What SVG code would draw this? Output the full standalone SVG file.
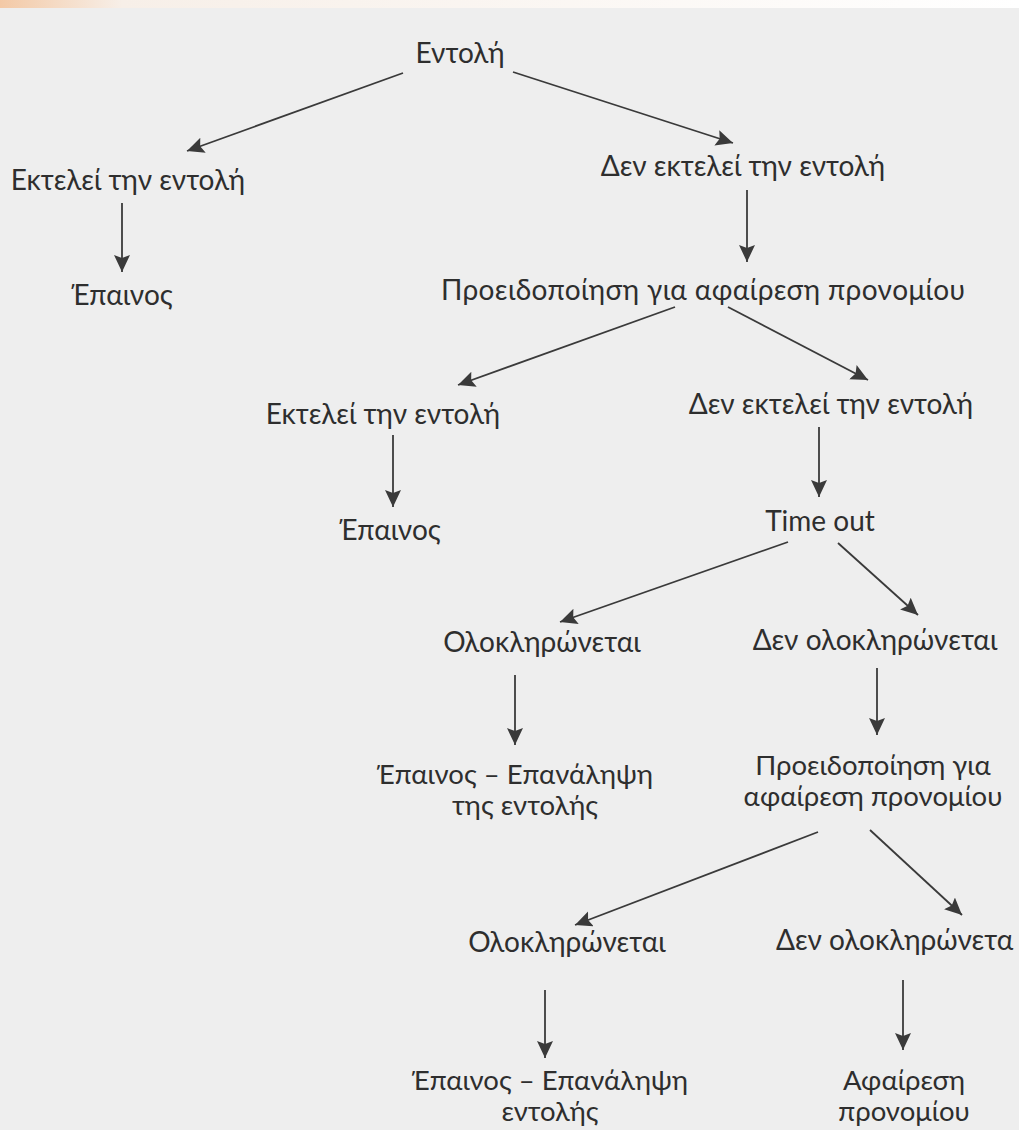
<svg xmlns="http://www.w3.org/2000/svg" width="1019" height="1130" viewBox="0 0 1019 1130">
<defs>
<marker id="ah" markerUnits="userSpaceOnUse" markerWidth="20" markerHeight="18" refX="17" refY="8" orient="auto">
<path d="M0,0 L17,8 L0,16 L3,8 z" fill="#3a3a3a"/>
</marker>
<linearGradient id="topg" x1="0" y1="0" x2="1" y2="0">
<stop offset="0" stop-color="#f3c9a6"/>
<stop offset="0.12" stop-color="#f7efe8"/>
<stop offset="1" stop-color="#ffffff"/>
</linearGradient>
</defs>
<style>
text{font-family:"Lato","Open Sans","Noto Sans",sans-serif;font-size:28px;fill:#2e2e2e;text-anchor:middle}
.two text{font-size:27.5px}
.c line{stroke:#3a3a3a;stroke-width:1.8;marker-end:url(#ah)}
</style>
<rect x="0" y="0" width="1019" height="1130" fill="#eeeeee"/>
<rect x="0" y="0" width="1019" height="8" fill="url(#topg)"/>
<g id="n1"><text x="460" y="63">Εντολή</text></g>
<g id="n2"><text x="128" y="190">Εκτελεί την εντολή</text></g>
<g id="n3"><text x="743" y="176">Δεν εκτελεί την εντολή</text></g>
<g id="n4"><text x="122" y="305">Έπαινος</text></g>
<g id="n5"><text x="703" y="300" textLength="524" lengthAdjust="spacing">Προειδοποίηση για αφαίρεση προνομίου</text></g>
<g id="n6"><text x="383" y="424">Εκτελεί την εντολή</text></g>
<g id="n7"><text x="831" y="414">Δεν εκτελεί την εντολή</text></g>
<g id="n8"><text x="390" y="540">Έπαινος</text></g>
<g id="n9"><text x="820" y="531">Time out</text></g>
<g id="n10"><text x="542" y="652">Ολοκληρώνεται</text></g>
<g id="n11"><text x="875" y="650">Δεν ολοκληρώνεται</text></g>
<g id="n12" class="two"><text x="515" y="784">Έπαινος – Επανάληψη</text><text x="525" y="815">της εντολής</text></g>
<g id="n13" class="two"><text x="873" y="775">Προειδοποίηση για</text><text x="873" y="806">αφαίρεση προνομίου</text></g>
<g id="n14"><text x="567" y="952">Ολοκληρώνεται</text></g>
<g id="n15"><text x="776" y="950" style="text-anchor:start">Δεν ολοκληρώνετα</text></g>
<g id="n16" class="two"><text x="550" y="1090">Έπαινος – Επανάληψη</text><text x="550" y="1121">εντολής</text></g>
<g id="n17" class="two"><text x="904" y="1090">Αφαίρεση</text><text x="904" y="1121">προνομίου</text></g>
<g id="connectors" class="c">
<line x1="403" y1="73" x2="187" y2="151"/>
<line x1="513" y1="72" x2="733" y2="143"/>
<line x1="122" y1="203" x2="122" y2="272"/>
<line x1="747" y1="190" x2="747" y2="262"/>
<line x1="675" y1="307" x2="458" y2="385"/>
<line x1="728" y1="307" x2="868" y2="380"/>
<line x1="393" y1="435" x2="393" y2="507"/>
<line x1="819" y1="427" x2="819" y2="497"/>
<line x1="788" y1="542" x2="560" y2="622"/>
<line x1="838" y1="543" x2="918" y2="615"/>
<line x1="515" y1="675" x2="515" y2="745"/>
<line x1="877" y1="668" x2="877" y2="735"/>
<line x1="818" y1="832" x2="575" y2="925"/>
<line x1="870" y1="830" x2="962" y2="915"/>
<line x1="545" y1="990" x2="545" y2="1058"/>
<line x1="903" y1="980" x2="903" y2="1050"/>
</g>
</svg>
